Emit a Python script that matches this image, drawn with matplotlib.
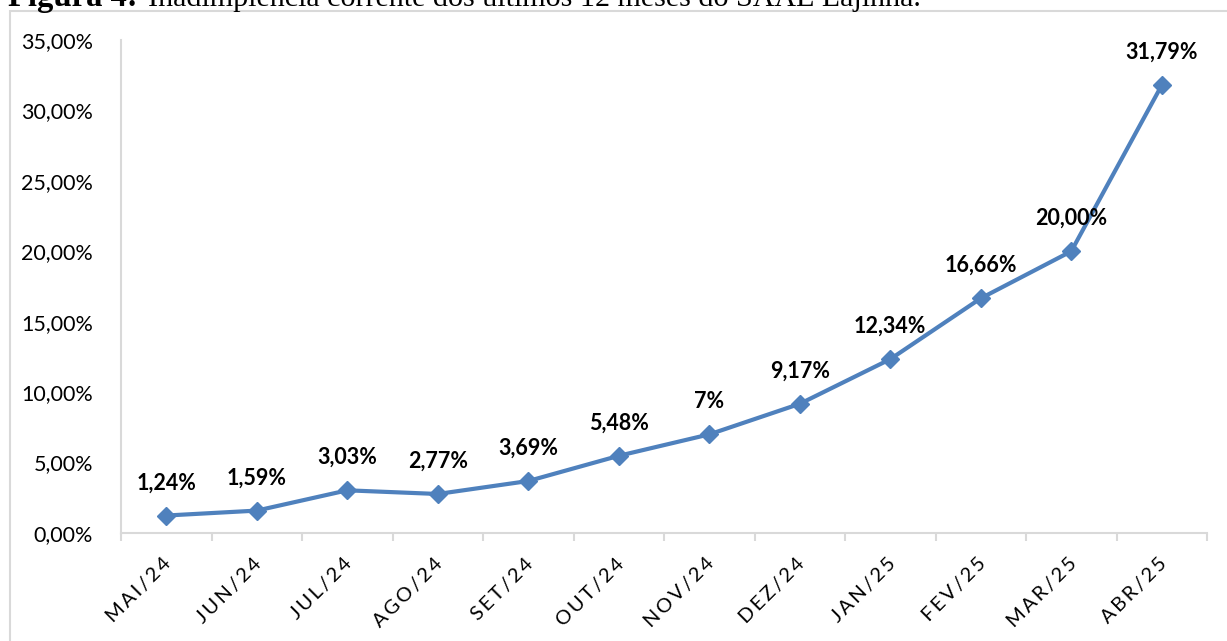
import matplotlib
matplotlib.use("Agg")
import matplotlib.pyplot as plt
from matplotlib.patches import Rectangle

categories = ["MAI/24", "JUN/24", "JUL/24", "AGO/24", "SET/24", "OUT/24",
              "NOV/24", "DEZ/24", "JAN/25", "FEV/25", "MAR/25", "ABR/25"]
values = [1.24, 1.59, 3.03, 2.77, 3.69, 5.48, 7.00, 9.17, 12.34, 16.66, 20.00, 31.79]
labels = ["1,24%", "1,59%", "3,03%", "2,77%", "3,69%", "5,48%", "7%",
          "9,17%", "12,34%", "16,66%", "20,00%", "31,79%"]
yticks = [0, 5, 10, 15, 20, 25, 30, 35]
ytick_labels = ["0,00%", "5,00%", "10,00%", "15,00%", "20,00%", "25,00%", "30,00%", "35,00%"]

W, H = 1227, 641
fig = plt.figure(figsize=(W / 100, H / 100), dpi=100)
fam = ["Lato", "DejaVu Sans"]

# outer chart frame
fig.patches.append(Rectangle((10 / W, -0.05), 1.2, (H - 11) / H + 0.05,
                             transform=fig.transFigure, fill=False,
                             edgecolor="#d9d9d9", linewidth=1.5))
# caption (cut off at top, as in the reference)
fig.text(8 / W, (H - 6) / H, "Figura 4:", fontsize=23.5, fontweight="bold",
         family="Liberation Serif", va="baseline", ha="left")
fig.text(148 / W, (H - 6) / H, "Inadimplência corrente dos últimos 12 meses do SAAE Lajinha.",
         fontsize=21.6, family="Liberation Serif", va="baseline", ha="left")

left, right = 121 / W, 1207 / W
bottom, top = (H - 533) / H, (H - 40) / H
ax = fig.add_axes([left, bottom, right - left, top - bottom])

x = list(range(len(categories)))
ax.plot(x, values, color="#4f81bd", linewidth=3, marker="D", markersize=9,
        markeredgecolor="#4f81bd", markerfacecolor="#4f81bd", zorder=3)

for xi, v, lab in zip(x, values, labels):
    ax.annotate(lab, (xi, v), xytext=(0, 16), textcoords="offset points",
                ha="center", va="bottom", fontsize=15.5, fontweight="bold",
                family=fam, color="#000000")

ax.set_xlim(-0.5, len(categories) - 0.5)
ax.set_ylim(0, 35)
ax.set_yticks(yticks)
ax.set_yticklabels(ytick_labels, fontsize=15.5, family=fam)
ax.tick_params(axis="y", length=0, pad=20)

ax.set_xticks([i - 0.5 for i in range(len(categories) + 1)])
ax.set_xticklabels([])
ax.tick_params(axis="x", length=6, color="#d9d9d9", width=1.5)
spaced = ["\u2009".join(c) for c in categories]
for xi, lab in zip(x, spaced):
    ax.text(xi - 0.04, -1.55, lab, rotation=45, ha="right", va="top",
            fontsize=14.5, family=fam, rotation_mode="anchor")

for s in ["top", "right"]:
    ax.spines[s].set_visible(False)
for s in ["left", "bottom"]:
    ax.spines[s].set_color("#d9d9d9")
    ax.spines[s].set_linewidth(1.5)

fig.savefig("out.png", dpi=100)
